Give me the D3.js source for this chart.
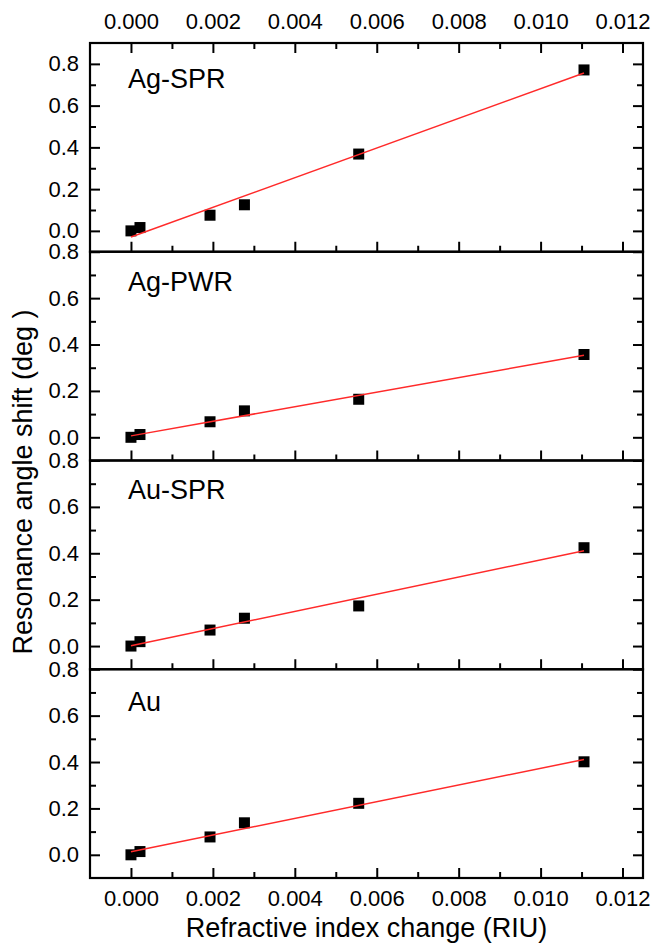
<!DOCTYPE html>
<html>
<head>
<meta charset="utf-8">
<script src="https://cdn.jsdelivr.net/npm/d3@7"></script>
<style>
  body { margin: 0; background: #fff; }
  text { font-family: "Liberation Sans", Arial, Helvetica, sans-serif; fill: #000; }
</style>
</head>
<body>
<svg id="chart" width="656" height="947"></svg>
<script>
// Refractive index change (RIU) for each measurement
const riuChange = [0, 0.00022, 0.00193, 0.00277, 0.00556, 0.01106];

// Resonance angle shift (deg) per sensor configuration
const agSprShift = [0, 0.016, 0.075, 0.125, 0.368, 0.771];
const agPwrShift = [0, 0.012, 0.067, 0.114, 0.164, 0.357];
const auSprShift = [0, 0.019, 0.069, 0.120, 0.173, 0.424];
const auShift    = [0, 0.014, 0.077, 0.138, 0.222, 0.401];

const panelNames = ["Ag-SPR", "Ag-PWR", "Au-SPR", "Au"];
const panelSeries = [agSprShift, agPwrShift, auSprShift, auShift];

// Axis ticks and labels
const xMajorTicks = [0, 0.002, 0.004, 0.006, 0.008, 0.010, 0.012];
const xTickLabels = ["0.000", "0.002", "0.004", "0.006", "0.008", "0.010", "0.012"];
const xMinorTicks = [0.001, 0.003, 0.005, 0.007, 0.009, 0.011];
const yMajorTicks = [0, 0.2, 0.4, 0.6, 0.8];
const yTickLabels = ["0.0", "0.2", "0.4", "0.6", "0.8"];
const yMinorTicks = [0.1, 0.3, 0.5, 0.7];
const xDomain = [-0.001, 0.0125];
const yDomainTop = [-0.1, 0.9];
const yDomainRest = [-0.1, 0.8];

const xTitle = "Refractive index change (RIU)";
const yTitle = "Resonance angle shift (deg )";

// ---- layout ----
const plotLeft = 90, plotRight = 643, plotTop = 43, plotBottom = 878;
const panelH = (plotBottom - plotTop) / 4;
const majorLen = 10, minorLen = 6;
const labelOffsets = [45, 39, 38, 42];

const svg = d3.select("#chart");

const x = d3.scaleLinear().domain(xDomain).range([plotLeft, plotRight]);

// least-squares straight line over the measured range
function fitLine(xs, ys) {
  const n = xs.length;
  const mx = d3.mean(xs), my = d3.mean(ys);
  let sxy = 0, sxx = 0;
  for (let i = 0; i < n; i++) {
    sxy += (xs[i] - mx) * (ys[i] - my);
    sxx += (xs[i] - mx) * (xs[i] - mx);
  }
  const slope = sxy / sxx;
  const icpt = my - slope * mx;
  const x0 = d3.min(xs), x1 = d3.max(xs);
  return [[x0, icpt + slope * x0], [x1, icpt + slope * x1]];
}

function styleAxis(g) {
  g.select(".domain").remove();
  g.selectAll(".tick line").attr("stroke", "#000").attr("stroke-width", 2);
  g.selectAll(".tick text").style("font-size", "22px").attr("fill", "#000");
}

panelSeries.forEach((series, i) => {
  const pTop = plotTop + i * panelH;
  const pBot = pTop + panelH;
  const y = d3.scaleLinear()
    .domain(i === 0 ? yDomainTop : yDomainRest)
    .range([pBot, pTop]);

  const g = svg.append("g");

  // left axis: major with labels, minor without
  g.append("g").attr("transform", `translate(${plotLeft},0)`)
    .call(d3.axisLeft(y).tickValues(yMajorTicks)
      .tickFormat((d, k) => yTickLabels[k])
      .tickSizeInner(-majorLen).tickSizeOuter(0).tickPadding(11))
    .call(styleAxis);
  g.append("g").attr("transform", `translate(${plotLeft},0)`)
    .call(d3.axisLeft(y).tickValues(yMinorTicks).tickFormat("")
      .tickSizeInner(-minorLen).tickSizeOuter(0))
    .call(styleAxis);

  // right axis: ticks pointing inward
  g.append("g").attr("transform", `translate(${plotRight},0)`)
    .call(d3.axisRight(y).tickValues(yMajorTicks).tickFormat("")
      .tickSizeInner(-majorLen).tickSizeOuter(0))
    .call(styleAxis);
  g.append("g").attr("transform", `translate(${plotRight},0)`)
    .call(d3.axisRight(y).tickValues(yMinorTicks).tickFormat("")
      .tickSizeInner(-minorLen).tickSizeOuter(0))
    .call(styleAxis);

  // bottom edge ticks pointing up; labels only on the last panel
  const isLast = i === panelSeries.length - 1;
  g.append("g").attr("transform", `translate(0,${pBot})`)
    .call(d3.axisBottom(x).tickValues(xMajorTicks)
      .tickFormat(isLast ? (d, k) => xTickLabels[k] : "")
      .tickSizeInner(-majorLen).tickSizeOuter(0).tickPadding(12))
    .call(styleAxis);
  g.append("g").attr("transform", `translate(0,${pBot})`)
    .call(d3.axisBottom(x).tickValues(xMinorTicks).tickFormat("")
      .tickSizeInner(-minorLen).tickSizeOuter(0))
    .call(styleAxis);

  // top axis on the first panel, ticks pointing down with labels above
  if (i === 0) {
    g.append("g").attr("transform", `translate(0,${pTop})`)
      .call(d3.axisTop(x).tickValues(xMajorTicks)
        .tickFormat((d, k) => xTickLabels[k])
        .tickSizeInner(-majorLen).tickSizeOuter(0).tickPadding(14))
      .call(styleAxis);
    g.append("g").attr("transform", `translate(0,${pTop})`)
      .call(d3.axisTop(x).tickValues(xMinorTicks).tickFormat("")
        .tickSizeInner(-minorLen).tickSizeOuter(0))
      .call(styleAxis);
  }

  // data squares
  const sq = 11;
  g.append("g").selectAll("rect")
    .data(series.map((v, k) => [riuChange[k], v]))
    .join("rect")
    .attr("x", d => x(d[0]) - sq / 2)
    .attr("y", d => y(d[1]) - sq / 2)
    .attr("width", sq).attr("height", sq)
    .attr("fill", "#000");

  // linear fit
  const fit = fitLine(riuChange, series);
  g.append("path")
    .attr("d", d3.line().x(d => x(d[0])).y(d => y(d[1]))(fit))
    .attr("fill", "none")
    .attr("stroke", "#ff2a2a")
    .attr("stroke-width", 1.5);

  // panel name
  g.append("text")
    .attr("x", plotLeft + 38)
    .attr("y", pTop + labelOffsets[i])
    .style("font-size", "27px")
    .text(panelNames[i]);

  // frame
  g.append("rect")
    .attr("x", plotLeft).attr("y", pTop)
    .attr("width", plotRight - plotLeft).attr("height", panelH)
    .attr("fill", "none").attr("stroke", "#000").attr("stroke-width", 2.2);
});

// axis titles
svg.append("text")
  .attr("x", (plotLeft + plotRight) / 2)
  .attr("y", 937)
  .attr("text-anchor", "middle")
  .style("font-size", "27px")
  .text(xTitle);

svg.append("text")
  .attr("transform", `translate(32,482) rotate(-90)`)
  .attr("text-anchor", "middle")
  .style("font-size", "27px")
  .text(yTitle);
</script>
</body>
</html>
